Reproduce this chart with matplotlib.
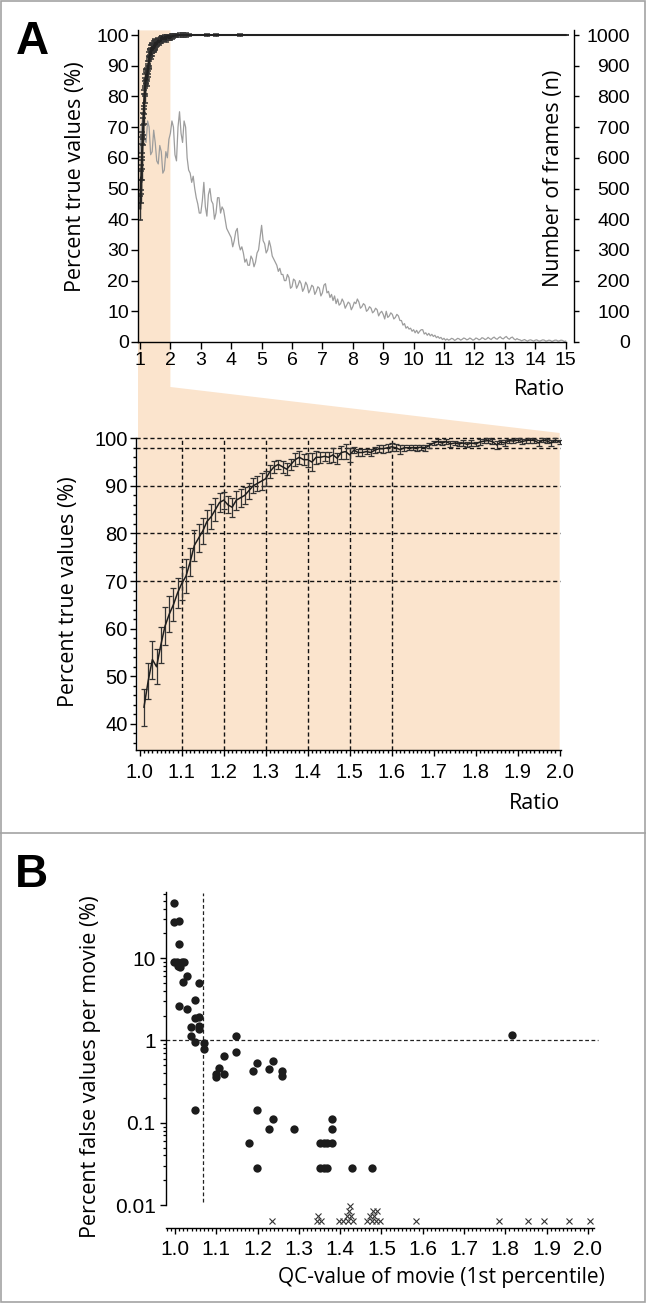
import numpy as np
import matplotlib
matplotlib.use("Agg")
import matplotlib.pyplot as plt
import matplotlib.transforms as mtrans
from matplotlib.patches import Polygon, Rectangle
from matplotlib.lines import Line2D
from matplotlib.ticker import FixedLocator, NullFormatter

W, H = 646, 1303
plt.rcParams['font.family'] = ['Liberation Sans', 'DejaVu Sans']
plt.rcParams['axes.linewidth'] = 1.0
LAB = ['Open Sans', 'DejaVu Sans']

# ---------------- data: panel A (zoom 1.0-2.0) ----------------
ratio_fine = np.round(np.arange(1.01, 2.0001, 0.01), 2)
pct_true = [43.5, 49.0, 53.5, 52.0, 56.5, 60.5, 63.0, 65.0, 67.5, 69.5,
            71.0, 74.0, 77.5, 79.0, 80.5, 82.5, 83.5, 85.0, 86.5, 87.0,
            86.0, 85.5, 87.0, 87.5, 88.0, 89.0, 90.0, 90.5, 91.0, 91.5,
            93.0, 94.0, 94.5, 94.0, 93.5, 94.5, 95.5, 96.0, 95.5, 95.5,
            95.0, 96.0, 96.0, 96.2, 96.0, 96.5, 95.8, 97.0, 97.2, 96.5,
            97.5, 97.0, 97.0, 97.2, 97.0, 97.5, 97.8, 97.8, 98.0, 98.2,
            98.0, 97.6, 98.0, 98.0, 98.0, 98.0, 98.1, 98.0, 98.5, 99.0,
            99.3, 99.0, 99.3, 98.8, 99.0, 98.8, 99.0, 98.7, 99.0, 98.8,
            99.2, 99.4, 99.5, 99.3, 98.6, 99.2, 99.0, 99.5, 99.4, 99.6,
            99.3, 99.5, 99.6, 99.5, 99.0, 99.6, 99.4, 99.0, 99.6, 99.2]
pct_err = [3.9, 3.8, 4.0, 3.7,
           3.8, 4.0, 3.8, 3.5, 3.2, 3.5, 3.6,
           3.0, 3.3, 3.0, 2.8, 2.5, 2.6, 2.4, 2.0,
           1.8, 1.8, 2.0, 2.0, 1.9, 1.8, 1.7, 1.6, 1.6, 1.8,
           1.6, 1.4, 1.3, 1.0, 1.2, 1.3, 1.2, 1.3, 1.4, 1.2,
           1.5, 1.8, 1.4, 1.2, 1.0, 1.2, 1.5, 1.2, 1.3, 1.6,
           1.5, 0.6, 0.7, 0.8, 0.6, 0.7, 0.6, 0.7, 0.8, 0.8,
           0.8, 0.7, 1.0, 0.6, 0.5, 0.5, 0.6, 0.5, 0.6, 0.5,
           0.5, 0.5, 0.4, 0.5, 0.6, 0.5, 0.4, 0.6, 0.5, 0.6,
           0.5, 0.6, 0.4, 0.5, 0.5, 0.9, 0.5, 0.6, 0.4, 0.5,
           0.4, 0.5, 0.4, 0.5, 0.4, 0.6, 0.4, 0.5, 0.6, 0.4,
           0.5]

# extension of the percent curve beyond ratio 2 (top overview)
ext_ratio = [2.05, 2.1, 2.15, 2.2, 2.3, 2.4, 2.5, 2.6, 3.2, 3.5, 4.3, 15.0]
ext_pct = [99.6, 99.7, 99.8, 99.9, 100, 100, 100, 100, 100, 100, 100, 100]
ext_err = [0.8, 0.6, 0.6, 0.5, 0.5, 0.5, 0.6, 0.4, 0.4, 0.3, 0.4, 0.0]

# number of frames per ratio bin (0.05 steps)
frame_ratio = np.round(np.arange(1.0, 15.0001, 0.05), 2)
frames = [620, 700, 740, 660, 650, 720, 700, 610, 620, 690, 650, 590, 580, 640, 620, 550, 560, 620, 600, 660,
          680, 720, 700, 610, 590, 700, 750, 680, 650, 720, 700, 600, 560, 550, 520, 540, 500, 470, 450, 420,
          420, 460, 520, 440, 410, 480, 500, 460, 450, 400, 420, 470, 470, 420, 440, 430, 400, 370, 360, 350,
          340, 310, 330, 360, 370, 320, 300, 310, 290, 260, 270, 250, 250, 280, 270, 245, 260, 290, 300, 340,
          380, 330, 320, 290, 300, 330, 310, 280, 270, 260, 250, 230, 240, 220, 220, 200, 200, 220, 210, 175,
          180, 205, 200, 175, 185, 200, 190, 165, 175, 195, 185, 160, 170, 185, 180, 155, 165, 180, 175, 150,
          160, 185, 190, 160, 165, 145, 155, 135, 150, 125, 140, 120, 125, 140, 130, 110, 120, 130, 125, 105,
          115, 130, 125, 140, 130, 110, 115, 125, 120, 100, 105, 115, 110, 95, 100, 110, 105, 85, 95, 100,
          90, 75, 100, 80, 85, 95, 90, 75, 80, 90, 85, 70, 70, 55, 60, 45, 50, 42, 45, 35,
          40, 30, 38, 28, 35, 40, 40, 26, 30, 22, 28, 20, 25, 18, 22, 14, 18, 12, 15, 8,
          12, 6, 10, 6, 8, 12, 10, 5, 8, 12, 10, 6, 9, 13, 11, 7, 9, 13, 10, 6,
          8, 13, 11, 7, 9, 14, 12, 8, 10, 15, 11, 8, 13, 16, 11, 9, 14, 17, 12, 10,
          15, 18, 12, 9, 14, 16, 10, 7, 11, 8, 7, 4, 6, 8, 5, 3, 6, 7, 5, 3,
          6, 7, 4, 3, 5, 7, 6, 3, 4, 6, 5, 2, 4, 6, 6, 3, 4, 6, 5, 2,
          3]

# ---------------- data: panel B ----------------
qc_value = [0.998, 0.998, 1.010, 1.009, 0.998, 1.004, 1.010, 1.016, 1.022, 1.008,
            1.013, 1.019, 1.030, 1.058, 1.009, 1.030, 1.048, 1.048, 1.059, 1.038,
            1.059, 1.059, 1.038, 1.048, 1.069, 1.069, 1.048, 1.148, 1.148, 1.119,
            1.107, 1.098, 1.098, 1.119, 1.188, 1.198, 1.228, 1.238, 1.258, 1.258,
            1.198, 1.238, 1.228, 1.288, 1.178, 1.198, 1.351, 1.360, 1.368, 1.379,
            1.352, 1.360, 1.368, 1.379, 1.379, 1.428, 1.478, 1.817]
false_pct = [46.5, 27.9, 28.6, 14.8, 9.0, 9.0, 8.6, 9.0, 9.0, 8.0,
             7.9, 5.2, 6.0, 5.0, 2.66, 2.4, 3.1, 1.87, 1.95, 1.45,
             1.5, 1.37, 1.12, 0.95, 0.93, 0.79, 0.141, 1.14, 0.73, 0.65,
             0.46, 0.39, 0.36, 0.39, 0.42, 0.53, 0.45, 0.56, 0.42, 0.366,
             0.141, 0.111, 0.084, 0.084, 0.056, 0.028, 0.056, 0.056, 0.056, 0.056,
             0.028, 0.028, 0.028, 0.084, 0.111, 0.028, 0.028, 1.17]
# movies without any false value (drawn as x below the axis)
zero_qc = [1.236, 1.343, 1.346, 1.353, 1.397, 1.408, 1.416, 1.420, 1.422, 1.424,
           1.426, 1.432, 1.466, 1.472, 1.476, 1.479, 1.482, 1.486, 1.490, 1.496,
           1.584, 1.785, 1.855, 1.895, 1.955, 2.005]
qc_threshold = 1.068
false_threshold = 1.0

fig = plt.figure(figsize=(W / 100, H / 100), dpi=100)


def box(l, t, r, b):
    return [l / W, 1 - b / H, (r - l) / W, (b - t) / H]


# ================= Panel A top =================
axT = fig.add_axes(box(138, 30.4, 573.5, 342))
axR = axT.twinx()
axT.set_zorder(axR.get_zorder() + 1)
axT.patch.set_visible(False)
axR.patch.set_visible(False)
x0T = 0.934
axT.set_xlim(x0T, 15.26)
axT.set_ylim(0, 101.5)
axR.set_ylim(0, 1015)

axR.plot(frame_ratio, frames, color='#9d9d9d', lw=0.9)
top_r = np.concatenate([ratio_fine, ext_ratio])
top_p = np.concatenate([pct_true, ext_pct])
top_e = np.concatenate([pct_err, ext_err])
axT.errorbar(top_r, top_p, yerr=top_e, color='#222222', lw=1.5,
             ecolor='#333333', elinewidth=1.0, capsize=2.4, capthick=1.1)

for s in ['top', 'right']:
    axT.spines[s].set_visible(False)
for s in ['top', 'left', 'bottom']:
    axR.spines[s].set_visible(False)
axT.spines['bottom'].set_bounds(x0T, 15)
axT.set_xticks(range(1, 16))
axT.set_yticks(range(0, 101, 10))
axR.set_yticks(range(0, 1001, 100))
axT.tick_params(axis='both', direction='out', length=5, width=1, labelsize=14)
axT.tick_params(axis='y', pad=1.5)
axT.tick_params(axis='x', pad=2.5)
axR.tick_params(axis='y', direction='out', length=3.6, width=1, labelsize=14, pad=37)
for lab in axR.get_yticklabels():
    lab.set_horizontalalignment('right')
axT.set_ylabel('Percent true values (%)', family=LAB, fontsize=15.5)
axT.yaxis.set_label_coords(-0.12, 0.53)
fig.text(554 / W, 1 - 178 / H, 'Number of frames (n)', family=LAB, fontsize=15.5,
         rotation=90, ha='center', va='center')
blendT = mtrans.blended_transform_factory(axT.transData, axT.transAxes)
axT.text(15, -0.154, 'Ratio', transform=blendT, family=LAB, fontsize=15.5,
         ha='right', va='center')

# ================= Panel A bottom =================
axB = fig.add_axes(box(136, 433, 560.5, 750))
axB.patch.set_visible(False)
x0B = 0.991
axB.set_xlim(x0B, 2.002)
axB.set_ylim(34.5, 101.1)
axB.spines['top'].set_visible(False)
axB.spines['right'].set_visible(False)
axB.spines['left'].set_bounds(34.5, 100)
dash = (0, (3, 2))
axB.hlines([70, 80, 90, 98, 100], x0B, 2.0, colors='#111111', linestyles=dash, lw=1.0, zorder=1)
axB.vlines([1.1, 1.2, 1.3, 1.4, 1.5, 1.6], 34.5, 100, colors='#111111', linestyles=dash, lw=1.0, zorder=1)
axB.errorbar(ratio_fine, pct_true, yerr=pct_err, color='#1e1e1e', lw=1.1,
             ecolor='#333333', elinewidth=0.9, capsize=2.0, capthick=0.9, zorder=3)
axB.xaxis.set_major_locator(FixedLocator(np.round(np.arange(1.0, 2.001, 0.1), 1)))
axB.xaxis.set_minor_locator(FixedLocator(np.round(np.arange(1.0, 2.001, 0.01), 2)))
axB.set_xticklabels(['%.1f' % v for v in np.arange(1.0, 2.001, 0.1)])
axB.yaxis.set_major_locator(FixedLocator(range(40, 101, 10)))
axB.yaxis.set_minor_locator(FixedLocator(range(36, 101, 2)))
axB.tick_params(axis='both', which='major', direction='out', length=4.5, width=1, labelsize=14.5)
axB.tick_params(axis='both', which='minor', direction='out', length=2.4, width=1)
axB.tick_params(axis='y', pad=1.5)
axB.tick_params(axis='x', pad=4.5)
axB.set_ylabel('Percent true values (%)', family=LAB, fontsize=15.5)
axB.yaxis.set_label_coords(-0.135, 0.5)
blendB = mtrans.blended_transform_factory(axB.transData, axB.transAxes)
axB.text(2.0, -0.168, 'Ratio', transform=blendB, family=LAB, fontsize=15.5,
         ha='right', va='center')

# ---- shaded zoom band (behind everything) ----
inv = fig.transFigure.inverted()
def tpt(ax, x, ya):
    bt = mtrans.blended_transform_factory(ax.transData, ax.transAxes)
    return inv.transform(bt.transform((x, ya)))
yk = -(387 - 342) / (342 - 30.4)
verts = [tpt(axT, x0T, 1.0), tpt(axT, 2.0, 1.0), tpt(axT, 2.0, yk),
         tpt(axB, 2.0, 1.0), tpt(axB, 2.0, 0.0), tpt(axB, x0B, 0.0)]
verts[-1][0] = verts[0][0]
fig.add_artist(Polygon(verts, closed=True, facecolor='#fbe4cd', edgecolor='none',
                       transform=fig.transFigure, zorder=-10))

# ================= Panel B =================
axS = fig.add_axes(box(166, 891.7, 594, 1228.3))
axS.patch.set_visible(False)
axS.set_yscale('log')
axS.set_xlim(0.978, 2.015)
axS.set_ylim(0.00521, 64.4)
axS.spines['top'].set_visible(False)
axS.spines['right'].set_visible(False)
axS.spines['left'].set_bounds(0.01, 64.4)
axS.yaxis.set_major_locator(FixedLocator([0.01, 0.1, 1, 10]))
axS.set_yticklabels(['0.01', '0.1', '1', '10'])
minors = [k * 10.0 ** e for e in range(-2, 2) for k in range(2, 10) if k * 10.0 ** e <= 64.4]
axS.yaxis.set_minor_locator(FixedLocator(minors))
axS.yaxis.set_minor_formatter(NullFormatter())
axS.xaxis.set_major_locator(FixedLocator(np.round(np.arange(1.0, 2.001, 0.1), 1)))
axS.xaxis.set_minor_locator(FixedLocator(np.round(np.arange(0.98, 2.0151, 0.01), 2)))
axS.set_xticklabels(['%.1f' % v for v in np.arange(1.0, 2.001, 0.1)])
axS.tick_params(axis='both', which='major', direction='out', length=4.5, width=1, labelsize=15)
axS.tick_params(axis='both', which='minor', direction='out', length=2.4, width=0.9)
axS.tick_params(axis='y', pad=3)
axS.tick_params(axis='x', pad=4)

axS.vlines(qc_threshold, 0.0108, 62, colors='#222222', linestyles=(0, (3, 2)), lw=0.9)
axS.hlines(false_threshold, 0.978, 2.025, colors='#222222', linestyles=(0, (3, 2)), lw=0.9,
           clip_on=False)
axS.plot(qc_value, false_pct, 'o', ms=6.0, color='#1c1c1c', mec='none', clip_on=False, zorder=3)

# stack the zero-value markers
zs = sorted(zero_qc)
placed = []
lev = []
for v in zs:
    L = 0
    while any(abs(v - p) < 0.009 for p, l in placed if l == L):
        L += 1
    placed.append((v, L))
    lev.append(L)
zy = [0.0064 * 1.15 ** L for L in lev]
axS.plot(zs, zy, 'x', ms=4.8, mew=0.8, color='#333333', clip_on=False, zorder=3)

axS.set_ylabel('Percent false values per movie (%)', family=LAB, fontsize=15.5)
axS.yaxis.set_label_coords((101 - 166) / (594 - 166), 1 - (1067 - 891.7) / (1228.3 - 891.7))
fig.text(605 / W, 1 - 1278 / H, 'QC-value of movie (1st percentile)', family=LAB,
         fontsize=15, ha='right', va='center')

# ---- panel letters and frame ----
fig.text(16 / W, 1 - 20 / H, 'A', fontsize=33, fontweight='bold', va='top', ha='left')
fig.text(15 / W, 1 - 853 / H, 'B', fontsize=33, fontweight='bold', va='top', ha='left')
fig.add_artist(Rectangle((0.8 / W, 0.8 / H), (W - 1.6) / W, (H - 1.6) / H, fill=False,
                         ec='#a3a3a3', lw=1.2, transform=fig.transFigure))
fig.add_artist(Line2D([0, 1], [1 - 833 / H] * 2, color='#a3a3a3', lw=1.2,
                      transform=fig.transFigure))

fig.savefig('out.png', dpi=100)
